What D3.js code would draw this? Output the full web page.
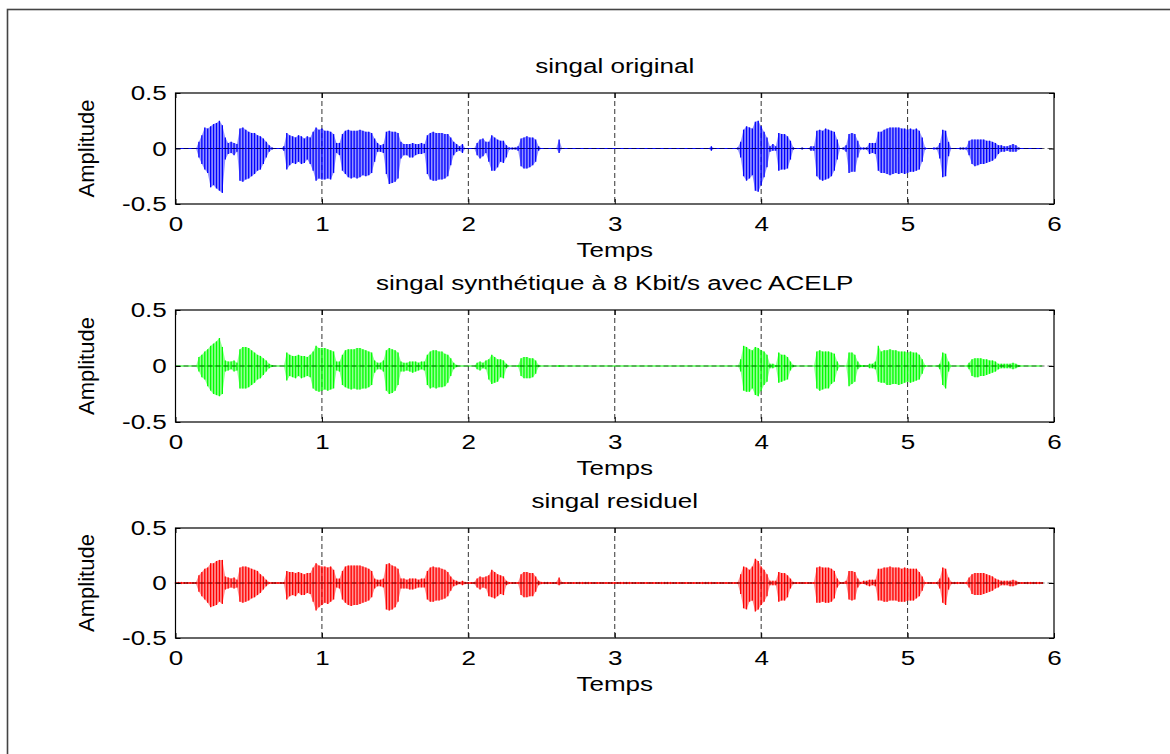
<!DOCTYPE html>
<html>
<head>
<meta charset="utf-8">
<script src="https://cdn.jsdelivr.net/npm/d3@7"></script>
<style>
  html, body { margin: 0; padding: 0; background: #fff; }
  svg { display: block; }
  text { font-family: "Liberation Sans", Arial, sans-serif; fill: #000; }
</style>
</head>
<body>
<script>
// Speech waveforms: original, ACELP 8 kbit/s synthesis, residual.
// Envelope readings every 20 ms (0 s .. 5.92 s), amplitudes in hundredths.
const sampleStep = 0.02;

const xTicks = [0, 1, 2, 3, 4, 5, 6];
const yTicks = [-0.5, 0, 0.5];
const panelTitles = ["singal original", "singal synthétique à 8 Kbit/s avec ACELP", "singal residuel"];
const xLabel = "Temps";
const yLabel = "Amplitude";
const seriesColors = ["#0000ff", "#00ff00", "#ff0000"];

const originalHigh = [
  0,0,0,0,0,0,0,0,6,12,
  19,18,20,22,23,25,21,10,5,6,
  5,4,18,19,17,15,14,14,12,11,
  9,6,3,1,0,0,0,2,14,12,
  11,10,12,11,9,11,10,15,19,17,
  18,16,16,15,13,5,5,13,16,17,
  16,16,16,17,16,15,15,14,9,5,
  3,4,15,16,15,15,14,6,4,4,
  4,5,4,4,5,4,12,14,15,14,
  14,14,13,13,10,6,4,2,4,0,
  0,0,0,5,8,9,6,6,12,10,
  8,7,7,3,1,1,1,2,9,10,
  11,10,10,8,2,0,0,0,0,0,
  0,8,0,0,0,0,0,0,0,0,
  0,0,0,0,0,0,0,0,0,0,
  0,0,0,0,0,0,0,0,0,0,
  0,0,0,0,0,0,0,0,0,0,
  0,0,0,0,0,0,0,0,0,0,
  0,0,0,2,0,0,0,0,0,0,
  0,0,1,6,17,20,19,18,24,25,
  20,15,10,2,4,2,14,13,13,11,
  7,1,0,0,1,0,0,2,2,16,
  17,16,18,17,16,15,8,0,1,3,
  13,14,13,7,1,1,1,5,5,5,
  15,15,17,18,19,19,19,19,18,18,
  17,18,17,18,16,10,1,0,0,1,
  1,5,17,16,6,0,0,0,1,1,
  1,7,8,8,8,8,8,7,7,6,
  5,3,3,2,2,3,4,3,1,0,
  0,0,0,0,0,0,0
];
const originalLow = [
  0,0,0,0,0,0,0,0,-8,-14,
  -19,-22,-35,-33,-36,-38,-40,-10,-5,-4,
  -6,-3,-29,-30,-28,-27,-25,-23,-20,-19,
  -14,-8,-3,-1,0,0,0,-2,-19,-15,
  -13,-14,-12,-14,-13,-10,-14,-20,-29,-27,
  -28,-28,-27,-28,-22,-4,-6,-20,-23,-26,
  -27,-26,-27,-26,-24,-25,-24,-22,-12,-3,
  -3,-4,-23,-32,-31,-30,-27,-9,-6,-6,
  -8,-8,-6,-5,-5,-4,-23,-28,-29,-29,
  -28,-28,-27,-25,-15,-6,-3,-2,-4,0,
  0,0,0,-6,-9,-7,-4,-12,-20,-20,
  -17,-12,-13,-8,-1,-1,-1,-2,-16,-18,
  -18,-17,-15,-12,-2,0,0,0,0,0,
  0,-4,0,0,0,0,0,0,0,0,
  0,0,0,0,0,0,0,0,0,0,
  0,0,0,0,0,0,0,0,0,0,
  0,0,0,0,0,0,0,0,0,0,
  0,0,0,0,0,0,0,0,0,0,
  0,0,0,-2,0,0,0,0,0,0,
  0,0,-1,-8,-25,-29,-27,-24,-38,-39,
  -33,-26,-17,-3,-2,-2,-20,-19,-19,-18,
  -10,-1,0,0,-1,0,0,-2,-2,-25,
  -28,-29,-28,-27,-25,-20,-10,0,-1,-3,
  -22,-21,-21,-8,-1,-1,-1,-5,-4,-5,
  -20,-22,-22,-23,-24,-23,-22,-23,-22,-23,
  -22,-21,-21,-20,-19,-12,-1,0,0,-1,
  -1,-9,-26,-25,-7,0,0,0,-1,-1,
  -1,-6,-14,-16,-15,-14,-14,-13,-12,-11,
  -9,-5,-3,-3,-2,-3,-3,-3,-1,0,
  0,0,0,0,0,0,0
];

const synthHigh = [
  0,0,0,0,0,0,0,0,8,10,
  13,15,18,20,22,25,17,5,4,4,
  5,3,15,17,17,16,14,12,10,9,
  7,5,2,1,0,0,0,0,12,10,
  9,9,10,9,9,8,10,13,18,16,
  16,16,15,14,13,4,4,10,14,15,
  15,15,16,16,15,14,13,12,5,3,
  3,5,14,16,15,14,12,4,3,3,
  4,4,4,3,4,4,10,13,14,14,
  13,13,11,10,7,3,1,0,0,0,
  0,0,0,3,4,3,5,6,10,8,
  6,6,5,2,0,0,0,1,7,8,
  8,7,7,5,1,0,0,0,0,0,
  0,1,0,0,0,0,0,0,0,0,
  0,0,0,0,0,0,0,0,0,0,
  0,0,0,0,0,0,0,0,0,0,
  0,0,0,0,0,0,0,0,0,0,
  0,0,0,0,0,0,0,0,0,0,
  0,0,0,0,0,0,0,0,0,0,
  0,0,0,6,18,17,15,14,17,16,
  14,13,10,2,2,1,12,10,10,8,
  4,1,0,0,0,0,0,0,0,13,
  14,13,13,13,12,11,4,0,0,0,
  12,12,10,4,1,1,0,2,2,4,
  18,13,14,14,15,14,14,13,13,13,
  12,13,12,12,10,6,1,0,0,0,
  0,2,12,11,4,0,0,0,0,0,
  0,3,6,7,7,7,6,6,5,5,
  4,2,2,2,2,2,3,2,1,0,
  0,0,0,0,0,0,0
];
const synthLow = [
  0,0,0,0,0,0,0,0,-5,-10,
  -12,-18,-22,-25,-26,-27,-25,-5,-4,-3,
  -5,-4,-20,-20,-20,-19,-17,-15,-12,-11,
  -8,-5,-2,-1,0,0,0,0,-13,-9,
  -10,-11,-9,-11,-10,-9,-10,-20,-22,-23,
  -22,-21,-22,-21,-20,-4,-5,-17,-19,-20,
  -21,-20,-21,-21,-20,-20,-19,-17,-6,-3,
  -3,-5,-22,-25,-24,-22,-17,-5,-5,-4,
  -5,-6,-5,-4,-3,-4,-17,-20,-19,-20,
  -19,-19,-18,-15,-9,-3,-1,0,0,0,
  0,0,0,-3,-4,-2,-3,-12,-16,-15,
  -14,-10,-11,-2,0,0,0,-1,-9,-11,
  -11,-11,-10,-7,-1,0,0,0,0,0,
  0,-1,0,0,0,0,0,0,0,0,
  0,0,0,0,0,0,0,0,0,0,
  0,0,0,0,0,0,0,0,0,0,
  0,0,0,0,0,0,0,0,0,0,
  0,0,0,0,0,0,0,0,0,0,
  0,0,0,0,0,0,0,0,0,0,
  0,0,0,-5,-22,-23,-23,-20,-26,-27,
  -22,-17,-14,-2,-2,-1,-15,-14,-13,-12,
  -4,-1,0,0,0,0,0,0,0,-20,
  -22,-21,-20,-20,-16,-14,-4,0,0,0,
  -18,-16,-14,-3,-1,-1,0,-2,-2,-3,
  -14,-15,-15,-17,-17,-16,-16,-17,-16,-15,
  -14,-15,-14,-13,-12,-7,-1,0,0,0,
  0,-3,-17,-20,-5,0,0,0,0,0,
  0,-3,-9,-10,-10,-9,-9,-8,-7,-6,
  -5,-3,-2,-2,-2,-2,-3,-2,-1,0,
  0,0,0,0,0,0,0
];

const residualHigh = [
  1,1,1,1,1,1,1,1,7,10,
  13,14,18,18,20,21,21,6,5,4,
  5,3,14,15,15,14,13,12,11,8,
  6,3,1,1,1,1,1,1,11,10,
  10,9,10,9,8,9,9,14,18,16,
  15,15,14,15,12,4,4,11,15,16,
  16,16,16,16,15,14,13,11,4,3,
  3,4,17,18,16,15,13,4,4,3,
  4,4,4,3,4,4,11,14,15,14,
  14,13,12,10,6,3,2,1,2,1,
  1,1,1,4,6,5,6,7,12,10,
  8,7,6,2,1,1,1,1,8,10,
  10,9,9,6,2,1,1,1,1,1,
  1,5,1,1,1,1,1,1,1,1,
  1,1,1,1,1,1,1,1,1,1,
  1,1,1,1,1,1,1,1,1,1,
  1,1,1,1,1,1,1,1,1,1,
  1,1,1,1,1,1,1,1,1,1,
  1,1,1,1,1,1,1,1,1,1,
  1,1,1,8,15,14,12,15,22,20,
  15,12,8,2,2,2,10,9,9,7,
  4,1,1,1,1,1,1,1,1,14,
  15,14,14,14,13,11,4,1,1,2,
  11,11,10,4,1,2,2,3,3,3,
  13,13,14,14,15,14,14,14,13,14,
  13,13,13,13,10,6,1,1,1,1,
  1,4,14,13,5,1,1,1,1,1,
  1,5,8,9,9,9,9,8,7,6,
  4,3,2,2,2,2,3,2,1,1,
  1,1,1,1,1,1,1
];
const residualLow = [
  -1,-1,-1,-1,-1,-1,-1,-1,-8,-12,
  -15,-18,-22,-21,-20,-17,-19,-6,-5,-4,
  -5,-4,-17,-18,-17,-16,-14,-13,-11,-9,
  -6,-3,-1,-1,-1,-1,-1,-1,-15,-12,
  -11,-12,-9,-11,-11,-9,-10,-17,-25,-22,
  -20,-18,-19,-17,-15,-4,-5,-15,-18,-20,
  -21,-20,-20,-19,-18,-17,-16,-13,-5,-3,
  -3,-4,-24,-25,-24,-22,-17,-5,-5,-5,
  -6,-6,-5,-4,-4,-4,-15,-17,-17,-16,
  -16,-15,-14,-12,-7,-3,-2,-1,-2,-1,
  -1,-1,-1,-4,-6,-4,-5,-12,-13,-14,
  -12,-10,-11,-2,-1,-1,-1,-1,-11,-13,
  -13,-12,-12,-8,-2,-1,-1,-1,-1,-1,
  -1,-2,-1,-1,-1,-1,-1,-1,-1,-1,
  -1,-1,-1,-1,-1,-1,-1,-1,-1,-1,
  -1,-1,-1,-1,-1,-1,-1,-1,-1,-1,
  -1,-1,-1,-1,-1,-1,-1,-1,-1,-1,
  -1,-1,-1,-1,-1,-1,-1,-1,-1,-1,
  -1,-1,-1,-1,-1,-1,-1,-1,-1,-1,
  -1,-1,-1,-10,-23,-24,-17,-16,-26,-24,
  -20,-17,-12,-2,-2,-2,-17,-16,-16,-13,
  -5,-1,-1,-1,-1,-1,-1,-1,-1,-18,
  -18,-17,-18,-18,-17,-14,-4,-1,-1,-1,
  -15,-16,-15,-4,-1,-1,-2,-3,-2,-3,
  -16,-16,-17,-17,-16,-16,-16,-17,-17,-17,
  -16,-16,-16,-14,-12,-7,-1,-1,-1,-1,
  -1,-5,-18,-20,-6,-1,-1,-1,-1,-1,
  -1,-4,-10,-11,-11,-11,-10,-9,-8,-7,
  -5,-4,-2,-2,-2,-3,-3,-2,-1,-1,
  -1,-1,-1,-1,-1,-1,-1
];

// ---------------------------------------------------------------------------
const W = 1170, H = 754;
const FONT = 21, STRETCH = 1.24;

const svg = d3.select("body").append("svg").attr("width", W).attr("height", H);
svg.append("rect").attr("width", W).attr("height", H).attr("fill", "#fff");

// outer figure frame
svg.append("rect")
  .attr("x", 7.5).attr("y", 9.5).attr("width", W + 20).attr("height", H + 20)
  .attr("fill", "none").attr("stroke", "#444").attr("stroke-width", 1.6);

const x = d3.scaleLinear().domain([0, 6]).range([175.5, 1054]);

const panels = [
  { top: 93, bottom: 204, hi: originalHigh, lo: originalLow },
  { top: 310, bottom: 422, hi: synthHigh, lo: synthLow },
  { top: 528, bottom: 638, hi: residualHigh, lo: residualLow }
].map((p, k) => ({ ...p, title: panelTitles[k], color: seriesColors[k] }));

function stretchedText(g, px, py, str, anchor) {
  g.append("g")
    .attr("transform", `translate(${px},${py}) scale(${STRETCH},1)`)
    .append("text")
    .attr("text-anchor", anchor)
    .attr("font-size", FONT)
    .text(str);
}

panels.forEach(p => {
  const y = d3.scaleLinear().domain([-0.5, 0.5]).range([p.bottom, p.top]);
  const g = svg.append("g");
  const samples = p.hi.map((h, i) => ({ t: i * sampleStep, hi: h / 100, lo: p.lo[i] / 100 }));

  // vertical grid lines behind the signal
  g.append("g").selectAll("line")
    .data(xTicks.filter(t => t > 0 && t < 6))
    .join("line")
    .attr("x1", d => x(d)).attr("x2", d => x(d))
    .attr("y1", p.top).attr("y2", p.bottom)
    .attr("stroke", "#333").attr("stroke-width", 1)
    .attr("stroke-dasharray", "5,3");

  // soft envelope between the strokes
  g.append("path")
    .datum(samples)
    .attr("d", d3.area().x(d => x(d.t)).y0(d => y(d.lo)).y1(d => y(d.hi)))
    .attr("fill", p.color).attr("fill-opacity", 0.42);

  // signal baseline
  g.append("line")
    .attr("x1", x(0)).attr("x2", x(samples[samples.length - 1].t))
    .attr("y1", y(0)).attr("y2", y(0))
    .attr("stroke", p.color).attr("stroke-width", 1.2);

  // one stroke per reading, from minimum to maximum
  g.append("g").selectAll("line")
    .data(samples.filter(d => d.hi !== d.lo))
    .join("line")
    .attr("x1", d => x(d.t)).attr("x2", d => x(d.t))
    .attr("y1", d => y(d.lo)).attr("y2", d => y(d.hi))
    .attr("stroke", p.color).attr("stroke-width", 1.3);

  // horizontal grid line at zero, drawn over the trace
  g.append("line")
    .attr("x1", x(0)).attr("x2", x(6))
    .attr("y1", y(0)).attr("y2", y(0))
    .attr("stroke", "#000").attr("stroke-opacity", 0.6).attr("stroke-width", 1)
    .attr("stroke-dasharray", "5,3");

  // axes box
  g.append("rect")
    .attr("x", x(0)).attr("y", p.top)
    .attr("width", x(6) - x(0)).attr("height", p.bottom - p.top)
    .attr("fill", "none").attr("stroke", "#000").attr("stroke-width", 1.2);

  // ticks and tick labels
  const fmt = d => String(d);
  const bottomAxis = g.append("g").attr("transform", `translate(0,${p.bottom})`)
    .call(d3.axisBottom(x).tickValues(xTicks).tickSize(-5).tickPadding(12).tickFormat(fmt));
  const leftAxis = g.append("g").attr("transform", `translate(${x(0)},0)`)
    .call(d3.axisLeft(y).tickValues(yTicks).tickSize(-5).tickPadding(7).tickFormat(fmt));
  g.append("g").attr("transform", `translate(0,${p.top})`)
    .call(d3.axisTop(x).tickValues(xTicks).tickSize(-5).tickFormat(""));
  g.append("g").attr("transform", `translate(${x(6)},0)`)
    .call(d3.axisRight(y).tickValues(yTicks).tickSize(-5).tickFormat(""));

  g.selectAll(".domain").remove();
  g.selectAll(".tick line").attr("stroke", "#000");
  [bottomAxis, leftAxis].forEach(a => {
    a.selectAll("text")
      .attr("font-size", FONT)
      .attr("font-family", '"Liberation Sans", Arial, sans-serif')
      .attr("fill", "#000")
      .attr("transform", `scale(${STRETCH},1)`);
  });

  // title and x label
  const cx = (x(0) + x(6)) / 2;
  stretchedText(g, cx, p.top - 20, p.title, "middle");
  stretchedText(g, cx, p.bottom + 53, xLabel, "middle");

  // y label
  g.append("text")
    .attr("transform", `translate(94,${(p.top + p.bottom) / 2}) rotate(-90)`)
    .attr("text-anchor", "middle")
    .attr("font-size", 22)
    .text(yLabel);
});
</script>
</body>
</html>
